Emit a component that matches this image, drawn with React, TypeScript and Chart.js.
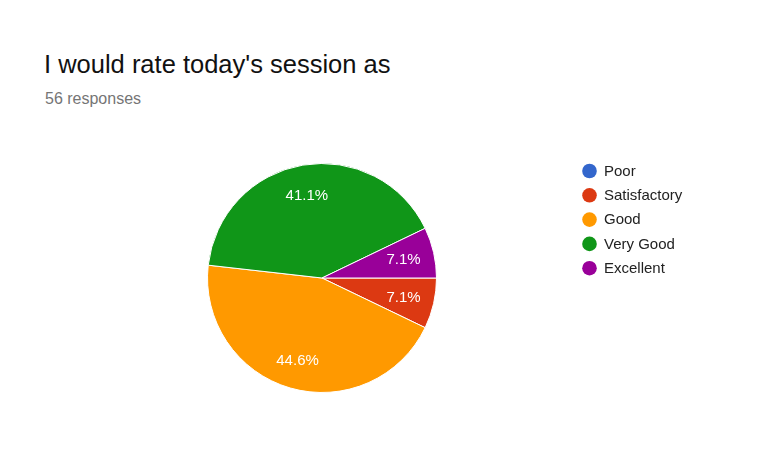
import { useEffect, useRef } from "react";
import { Chart, registerables } from "chart.js";
import type { ChartConfiguration, Plugin } from "chart.js";

Chart.register(...registerables);

const RATINGS = ["Poor", "Satisfactory", "Good", "Very Good", "Excellent"];
const RESPONSES = [0, 4, 25, 23, 4];
const COLORS = ["#3366cc", "#dc3912", "#ff9900", "#109618", "#990099"];

const FONT = "'Liberation Sans', Arial, Helvetica, sans-serif";

// percent text inside each slice
const sliceLabels: Plugin<"pie"> = {
  id: "sliceLabels",
  afterDatasetsDraw(chart) {
    const { ctx } = chart;
    const meta = chart.getDatasetMeta(0);
    const data = chart.data.datasets[0].data as number[];
    const total = data.reduce((a, b) => a + b, 0);
    ctx.save();
    ctx.fillStyle = "#ffffff";
    ctx.font = `15px ${FONT}`;
    ctx.textAlign = "center";
    ctx.textBaseline = "middle";
    meta.data.forEach((el: any, i) => {
      const v = data[i];
      if (!v) return;
      const { x, y, startAngle, endAngle, outerRadius } = el.getProps(
        ["x", "y", "startAngle", "endAngle", "outerRadius"],
        true
      );
      const mid = (startAngle + endAngle) / 2;
      const r = outerRadius * 0.74;
      ctx.fillText(((v / total) * 100).toFixed(1) + "%", x + Math.cos(mid) * r - 1, y + Math.sin(mid) * r + 1);
    });
    ctx.restore();
  },
};

// legend with round markers, laid out like the forms summary
const sideLegend: Plugin<"pie"> = {
  id: "sideLegend",
  afterDraw(chart) {
    const { ctx } = chart;
    const labels = chart.data.labels as string[];
    const colors = chart.data.datasets[0].backgroundColor as string[];
    ctx.save();
    ctx.font = `15px ${FONT}`;
    ctx.textBaseline = "middle";
    labels.forEach((lab, i) => {
      const cy = 171 + i * 24.3;
      ctx.fillStyle = colors[i];
      ctx.beginPath();
      ctx.arc(589.5, cy, 7.3, 0, Math.PI * 2);
      ctx.fill();
      ctx.fillStyle = "#222222";
      ctx.fillText(lab, 604, cy + 0.5);
    });
    ctx.restore();
  },
};

export default function App() {
  const canvasRef = useRef<HTMLCanvasElement | null>(null);

  useEffect(() => {
    document.body.style.margin = "0";
    const ctx = canvasRef.current!.getContext("2d")!;

    const config: ChartConfiguration<"pie", number[], string> = {
      type: "pie",
      data: {
        labels: RATINGS,
        datasets: [
          {
            data: RESPONSES,
            backgroundColor: COLORS,
            borderColor: "#ffffff",
            borderWidth: 1,
          },
        ],
      },
      options: {
        responsive: false,
        animation: false,
        rotation: 90,
        layout: { padding: { left: 207, right: 331, top: 163, bottom: 79 } },
        plugins: {
          legend: { display: false },
          tooltip: { enabled: false },
        },
      },
      plugins: [sliceLabels, sideLegend],
    };

    const chart = new Chart(ctx, config);
    return () => chart.destroy();
  }, []);

  return (
    <div style={{ position: "relative", width: 768, height: 472, background: "#fff", fontFamily: FONT }}>
      <div style={{ position: "absolute", left: 44, top: 49, fontSize: 25.5, color: "#111111", lineHeight: "30px", whiteSpace: "nowrap" }}>
        I would rate today's session as
      </div>
      <div style={{ position: "absolute", left: 45, top: 88.5, fontSize: 16, color: "#757575", lineHeight: "20px", whiteSpace: "nowrap" }}>
        56 responses
      </div>
      <canvas ref={canvasRef} width={768} height={472} style={{ position: "absolute", left: 0, top: 0 }} />
    </div>
  );
}
